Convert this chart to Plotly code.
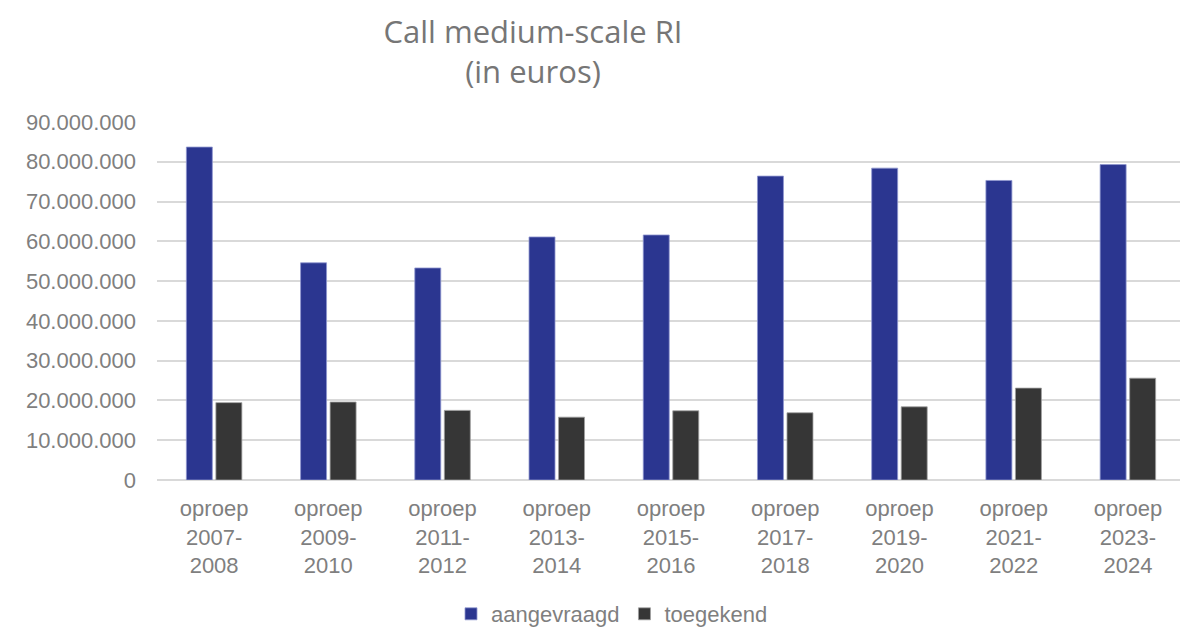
import plotly.graph_objects as go

categories = [
    "oproep<br>2007-<br>2008", "oproep<br>2009-<br>2010", "oproep<br>2011-<br>2012",
    "oproep<br>2013-<br>2014", "oproep<br>2015-<br>2016", "oproep<br>2017-<br>2018",
    "oproep<br>2019-<br>2020", "oproep<br>2021-<br>2022", "oproep<br>2023-<br>2024",
]
aangevraagd = [83_700_000, 54_600_000, 53_300_000, 61_100_000, 61_600_000,
               76_400_000, 78_400_000, 75_300_000, 79_300_000]
toegekend = [19_450_000, 19_600_000, 17_500_000, 15_800_000, 17_400_000,
             16_900_000, 18_400_000, 23_100_000, 25_600_000]
y_ticks = [0, 10_000_000, 20_000_000, 30_000_000, 40_000_000, 50_000_000,
           60_000_000, 70_000_000, 80_000_000, 90_000_000]

BLUE = "#2b3690"
DARK = "#363636"
TXT = "#7f7f7f"
FONT = "Liberation Sans, Arial, sans-serif"

# page body has an 8px default margin; figure is sized/offset to compensate
W, H = 1180, 621
OFF = 8

fig = go.Figure()
fig.add_trace(go.Bar(name="aangevraagd", x=categories, y=aangevraagd,
                     marker=dict(color=BLUE, line=dict(color="#8f97cf", width=0.8))))
fig.add_trace(go.Bar(name="toegekend", x=categories, y=toegekend,
                     marker=dict(color=DARK, line=dict(color="#a0a0a0", width=0.8))))

fig.update_layout(
    width=W, height=H,
    margin=dict(l=157 - OFF, r=3, t=122 - OFF, b=H - (480 - OFF)),
    paper_bgcolor="white", plot_bgcolor="white",
    separators=",.",
    barmode="group", bargap=0.483, bargroupgap=0.12,
    font=dict(family=FONT, size=22, color=TXT),
    title=dict(text="Call medium-scale RI<br>(in euros)", x=(533 - OFF) / W, xref="container",
               xanchor="center", y=1 - (43 - OFF) / H, yref="container", yanchor="middle",
               font=dict(family="Open Sans, Noto Sans, sans-serif", size=31, color="#767676")),
    showlegend=True,
    legend=dict(orientation="h", xref="container", yref="container",
                x=(612 - OFF) / W, xanchor="center", y=1 - (614 - OFF) / H, yanchor="middle",
                font=dict(family=FONT, size=22, color=TXT), itemwidth=30,
                traceorder="normal"),
)
fig.update_yaxes(range=[0, 90_000_000], tickvals=y_ticks, tickformat=",d",
                 showgrid=True, gridcolor="#d9d9d9", gridwidth=1.5,
                 zeroline=True, zerolinecolor="#d9d9d9", zerolinewidth=1.5,
                 showline=False, ticklabelstandoff=20,
                 tickfont=dict(family=FONT, size=22, color=TXT))
fig.update_xaxes(showgrid=False, showline=False, tickangle=0, ticklabelstandoff=13,
                 tickfont=dict(family=FONT, size=22, color=TXT))

fig.write_html("out.html")
